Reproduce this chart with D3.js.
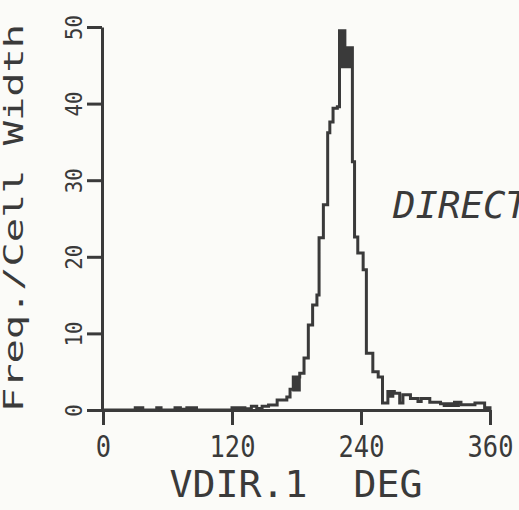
<!DOCTYPE html>
<html>
<head>
<meta charset="utf-8">
<script src="https://cdn.jsdelivr.net/npm/d3@7"></script>
<style>
  body { margin: 0; background: #fbfbf8; }
  svg { display: block; }
  text { font-family: "DejaVu Sans Mono", "Liberation Mono", monospace; fill: #3a3a3a; }
</style>
</head>
<body>
<div id="chart"></div>
<script>
// cell edges (degrees) and frequency per cell width
const cellEdges = [0, 30, 37, 50, 54, 67, 72, 78, 87, 120, 132, 138, 143, 148, 154,
    162, 171, 174, 177, 183, 187, 191, 195, 199, 201, 205, 209, 211, 214, 218, 220,
    225, 232, 234, 237, 242, 245, 251, 256, 260, 265, 271, 276, 279, 286, 293, 296,
    304, 314, 327, 333, 346, 355, 360];
const cellFreq = [0, 0.3, 0, 0.3, 0, 0.3, 0.1, 0.3, 0, 0.3, 0.15, 0.5, 0.2, 0.5,
    0.65, 1.3, 1.7, 2.7, 4.3, 4.8, 6.8, 11.1, 13.7, 15.0, 22.5, 26.8, 36.2, 37.6, 39.4, 39.6,
    49.5, 47.3, 32.4, 22.6, 20.5, 18.3, 7.4, 5.0, 4.3, 0.9, 2.4, 2.2, 0.9, 2.0, 1.5, 1.1,
    1.5, 1.0, 0.8, 1.0, 0.7, 0.9, 0.3];

// darker (double-drawn) stretches: from, to, lower freq
const shadeFrom = [220, 176, 265, 316];
const shadeTo = [232, 184, 271, 332];
const shadeLow = [44.6, 2.4, 1.6, 0.4];

const xTicks = [0, 120, 240, 360];
const yTicks = [0, 10, 20, 30, 40, 50];
const xTitle = "VDIR.1  DEG";
const yTitle = "Freq./Cell Width";
const sideNote = "DIRECT";

var W = 519, H = 510;
var ink = "#3a3a3a";

var x = d3.scaleLinear().domain([0, 360]).range([103, 490]);
var y = d3.scaleLinear().domain([0, 50]).range([410, 27]);

var svg = d3.select("#chart").append("svg")
    .attr("width", W)
    .attr("height", H);

// step points
var pts = [{d: cellEdges[0], v: 0}];
cellFreq.forEach((v, i) => pts.push({d: cellEdges[i], v: v}));
pts.push({d: cellEdges[cellEdges.length - 1], v: cellFreq[cellFreq.length - 1]});
pts.push({d: cellEdges[cellEdges.length - 1], v: 0});

function freqAt(d) {
    for (var i = 0; i < cellFreq.length; i++) {
        if (d >= cellEdges[i] && d < cellEdges[i + 1]) return cellFreq[i];
    }
    return 0;
}

// shaded blocks
shadeFrom.forEach((f, k) => {
    var seg = [f];
    cellEdges.forEach(e => { if (e > f && e < shadeTo[k]) seg.push(e); });
    seg.push(shadeTo[k]);
    var sp = seg.map(d => ({d: d, v: freqAt(Math.min(d, shadeTo[k] - 0.01))}));
    svg.append("path")
        .attr("d", d3.area().curve(d3.curveStepAfter)
            .x(p => x(p.d)).y0(y(shadeLow[k])).y1(p => y(p.v))(sp))
        .attr("fill", ink);
});

// x axis
var xAxis = svg.append("g")
    .attr("transform", `translate(0, ${y(0)})`)
    .call(d3.axisBottom(x).tickValues(xTicks).tickSize(15).tickSizeOuter(0).tickFormat(d3.format("d")));
xAxis.select(".domain").attr("stroke", ink).attr("stroke-width", 3);
xAxis.selectAll(".tick line").attr("stroke", ink).attr("stroke-width", 3);
xAxis.selectAll(".tick text")
    .attr("x", 0).attr("y", 0).attr("dy", 0)
    .attr("transform", "translate(0, 47) scale(0.82, 1)")
    .attr("font-size", 31)
    .attr("fill", ink);

// y axis
var yAxis = svg.append("g")
    .attr("transform", `translate(${x(0) - 1}, 0)`)
    .call(d3.axisLeft(y).tickValues(yTicks).tickSize(15).tickSizeOuter(0).tickFormat(d3.format("d")));
yAxis.select(".domain").attr("stroke", ink).attr("stroke-width", 3);
yAxis.selectAll(".tick line").attr("stroke", ink).attr("stroke-width", 3);
yAxis.selectAll(".tick text")
    .attr("x", 0).attr("dy", 0)
    .attr("transform", "translate(-20, 0) rotate(-90)")
    .attr("text-anchor", "middle")
    .attr("font-size", 23)
    .attr("fill", ink)
    .attr("textLength", d => String(d).length * 12.5)
    .attr("lengthAdjust", "spacingAndGlyphs");

// histogram outline
svg.append("path")
    .attr("d", d3.line().curve(d3.curveStepAfter).x(p => x(p.d)).y(p => y(p.v))(pts))
    .attr("fill", "none")
    .attr("stroke", ink)
    .attr("stroke-width", 3)
    .attr("stroke-linejoin", "miter");

// titles
svg.append("text")
    .attr("transform", "translate(23, 218) rotate(-90)")
    .attr("text-anchor", "middle")
    .attr("font-size", 26)
    .attr("textLength", 388)
    .attr("lengthAdjust", "spacingAndGlyphs")
    .text(yTitle);

svg.append("text")
    .attr("x", 296).attr("y", 497)
    .attr("text-anchor", "middle")
    .attr("font-size", 37)
    .attr("textLength", 253)
    .attr("lengthAdjust", "spacingAndGlyphs")
    .style("white-space", "pre")
    .text(xTitle);

svg.append("text")
    .attr("x", 393).attr("y", 218)
    .attr("font-size", 38)
    .attr("font-style", "italic")
    .attr("textLength", 135)
    .attr("lengthAdjust", "spacingAndGlyphs")
    .text(sideNote);
</script>
</body>
</html>
